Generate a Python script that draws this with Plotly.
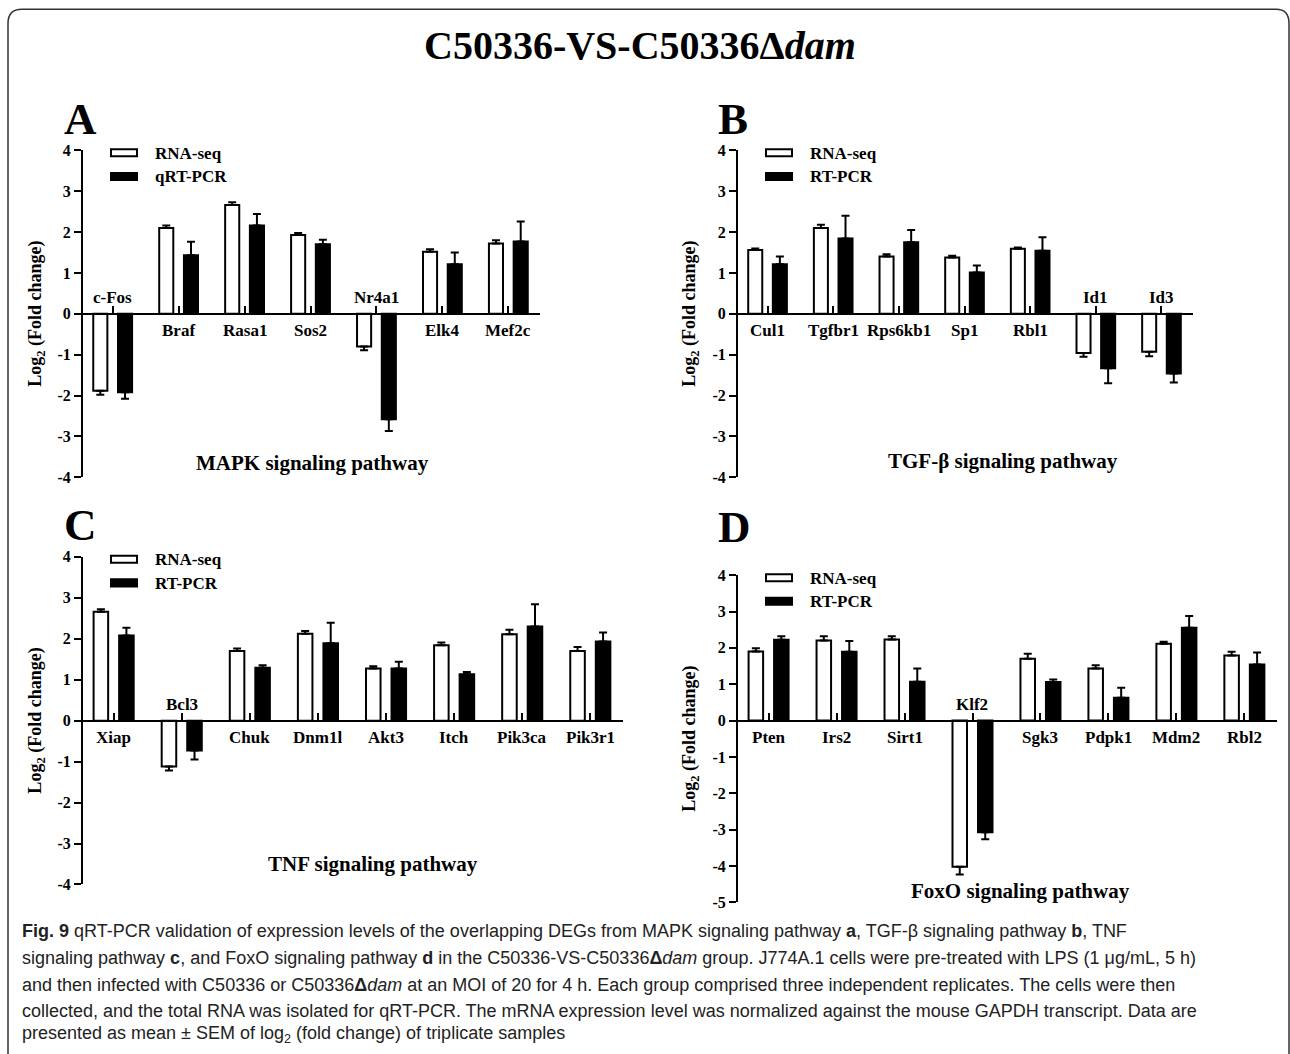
import plotly.graph_objects as go

W, H = 1290, 1054

# ---------------- data ----------------
a_genes = ["c-Fos", "Braf", "Rasa1", "Sos2", "Nr4a1", "Elk4", "Mef2c"]
a_rna = [-1.88, 2.10, 2.66, 1.93, -0.80, 1.52, 1.72]
a_rna_err = [0.10, 0.06, 0.07, 0.05, 0.09, 0.06, 0.08]
a_pcr = [-1.92, 1.43, 2.16, 1.70, -2.58, 1.21, 1.77]
a_pcr_err = [0.16, 0.33, 0.28, 0.11, 0.29, 0.29, 0.49]

b_genes = ["Cul1", "Tgfbr1", "Rps6kb1", "Sp1", "Rbl1", "Id1", "Id3"]
b_rna = [1.56, 2.10, 1.40, 1.38, 1.59, -0.96, -0.93]
b_rna_err = [0.04, 0.08, 0.06, 0.04, 0.03, 0.09, 0.11]
b_pcr = [1.21, 1.84, 1.75, 1.01, 1.54, -1.33, -1.46]
b_pcr_err = [0.19, 0.56, 0.30, 0.17, 0.33, 0.37, 0.22]

c_genes = ["Xiap", "Bcl3", "Chuk", "Dnm1l", "Akt3", "Itch", "Pik3ca", "Pik3r1"]
c_rna = [2.66, -1.12, 1.70, 2.12, 1.27, 1.84, 2.11, 1.70]
c_rna_err = [0.06, 0.10, 0.06, 0.07, 0.06, 0.07, 0.11, 0.10]
c_pcr = [2.08, -0.73, 1.29, 1.89, 1.27, 1.13, 2.30, 1.93]
c_pcr_err = [0.19, 0.22, 0.06, 0.50, 0.17, 0.06, 0.54, 0.22]

d_genes = ["Pten", "Irs2", "Sirt1", "Klf2", "Sgk3", "Pdpk1", "Mdm2", "Rbl2"]
d_rna = [1.90, 2.20, 2.23, -4.02, 1.70, 1.43, 2.11, 1.79]
d_rna_err = [0.09, 0.12, 0.09, 0.21, 0.14, 0.09, 0.06, 0.10]
d_pcr = [2.22, 1.89, 1.07, -3.07, 1.06, 0.63, 2.55, 1.54]
d_pcr_err = [0.10, 0.30, 0.36, 0.19, 0.07, 0.27, 0.33, 0.33]

pathways = ["MAPK signaling pathway", "TGF-β signaling pathway",
            "TNF signaling pathway", "FoxO signaling pathway"]
letters = ["A", "B", "C", "D"]
series_names = ["RNA-seq", "qRT-PCR", "RNA-seq", "RT-PCR", "RNA-seq", "RT-PCR", "RNA-seq", "RT-PCR"]
y_ranges = [(-4, 4), (-4, 4), (-4, 4), (-5, 4)]
y_title = "<b>Log<sub>2</sub> (Fold change)</b>"
main_title = "<b>C50336-VS-C50336Δ<i>dam</i></b>"

caption_lines = [
    "<b>Fig. 9</b> qRT-PCR validation of expression levels of the overlapping DEGs from MAPK signaling pathway <b>a</b>, TGF-β signaling pathway <b>b</b>, TNF",
    "signaling pathway <b>c</b>, and FoxO signaling pathway <b>d</b> in the C50336-VS-C50336<b>Δ</b><i>dam</i> group. J774A.1 cells were pre-treated with LPS (1 μg/mL, 5 h)",
    "and then infected with C50336 or C50336<b>Δ</b><i>dam</i> at an MOI of 20 for 4 h. Each group comprised three independent replicates. The cells were then",
    "collected, and the total RNA was isolated for qRT-PCR. The mRNA expression level was normalized against the mouse GAPDH transcript. Data are",
    "presented as mean ± SEM of log<sub>2</sub> (fold change) of triplicate samples",
]

panels_data = [
    (a_genes, a_rna, a_rna_err, a_pcr, a_pcr_err),
    (b_genes, b_rna, b_rna_err, b_pcr, b_pcr_err),
    (c_genes, c_rna, c_rna_err, c_pcr, c_pcr_err),
    (d_genes, d_rna, d_rna_err, d_pcr, d_pcr_err),
]

# ---------------- layout geometry (target pixels) ----------------
geom = [
    (83, 540, 150.7, 476.7),
    (738, 1193, 150.7, 476.7),
    (83, 623, 556.0, 882.7),
    (738, 1277, 574.3, 900.6),
]
title_pos = [(312, 462), (1003, 460), (373, 862), (1020, 889)]
letter_pos = [(62, 119), (716, 119), (62, 524), (716, 526)]

SERIF = "Liberation Serif, Times New Roman, serif"
SANS_N = "Liberation Sans Narrow, Arial Narrow, Liberation Sans, sans-serif"

# the page is captured slightly taller than the figure; compensate vertically
OFF_Y, K_Y = 8.8, 0.981


def px(x):
    return x / W


def py(y):
    return 1 - ((y - OFF_Y) / K_Y) / H


fig = go.Figure()
layout = dict(
    width=W, height=H, margin=dict(l=0, r=0, t=0, b=0),
    paper_bgcolor="white", plot_bgcolor="rgba(0,0,0,0)",
    barmode="group", bargap=0.25, bargroupgap=0.43,
    showlegend=False, font=dict(family=SERIF, color="black"),
)
annotations = []
shapes = []

for i, (genes, rna, rna_e, pcr, pcr_e) in enumerate(panels_data):
    k = "" if i == 0 else str(i + 1)
    x0, x1, yt, yb = geom[i]
    ymin, ymax = y_ranges[i]
    n = len(genes)
    dom_y = [py(yb), py(yt)]
    zero_pos = dom_y[0] + (0 - ymin) / (ymax - ymin) * (dom_y[1] - dom_y[0])

    for vals, errs, fill in ((rna, rna_e, "white"), (pcr, pcr_e, "black")):
        up = [e if v >= 0 else 0 for v, e in zip(vals, errs)]
        dn = [e if v < 0 else 0 for v, e in zip(vals, errs)]
        fig.add_trace(go.Bar(
            x=genes, y=vals, xaxis="x" + k, yaxis="y" + k,
            marker=dict(color=fill, line=dict(color="black", width=2)),
            error_y=dict(type="data", symmetric=False, array=up, arrayminus=dn,
                         color="black", thickness=2, width=4),
        ))

    tv = list(range(ymin, ymax + 1))
    layout["xaxis" + k] = dict(
        domain=[px(x0), px(x1)], type="category", range=[-0.45, n - 0.52],
        anchor="free", position=zero_pos, showline=True, linewidth=2, linecolor="black",
        ticks="inside", ticklen=7, tickwidth=1.5, tickcolor="black",
        showticklabels=False, showgrid=False, zeroline=False, fixedrange=True,
    )
    layout["yaxis" + k] = dict(
        domain=dom_y, range=[ymin, ymax], anchor="x" + k,
        showline=True, linewidth=2, linecolor="black",
        ticks="outside", ticklen=7, tickwidth=2, tickcolor="black",
        tickvals=tv, ticktext=[str(v) for v in tv],
        tickfont=dict(family=SERIF, size=16, weight="bold", color="black"),
        showgrid=False, zeroline=False, fixedrange=True,
    )

    for g, v1, v2 in zip(genes, rna, pcr):
        neg = (v1 + v2) < 0
        annotations.append(dict(
            x=g, y=0, xref="x" + k, yref="y" + k, text="<b>%s</b>" % g, showarrow=False,
            xanchor="center", yanchor="bottom" if neg else "top", yshift=5 if neg else -5,
            font=dict(family=SERIF, size=17, color="black"),
        ))

    annotations.append(dict(
        x=px(37 if i % 2 == 0 else 691), y=(dom_y[0] + dom_y[1]) / 2, xref="paper", yref="paper",
        text=y_title, textangle=-90, showarrow=False, xanchor="center", yanchor="middle",
        font=dict(family=SERIF, size=18, color="black"),
    ))
    tx, ty = title_pos[i]
    annotations.append(dict(
        x=px(tx), y=py(ty), xref="paper", yref="paper", text="<b>%s</b>" % pathways[i],
        showarrow=False, xanchor="center", yanchor="middle",
        font=dict(family=SERIF, size=21, color="black"),
    ))
    lx, ly = letter_pos[i]
    annotations.append(dict(
        x=px(lx), y=py(ly), xref="paper", yref="paper", text="<b>%s</b>" % letters[i],
        xanchor="left", yanchor="middle", showarrow=False, height=34, valign="middle",
        font=dict(family=SERIF, size=45, color="black"),
    ))
    lgx = x0 + 28
    for j, fill in enumerate(("white", "black")):
        top = yt - 1 + j * 23.5
        shapes.append(dict(
            type="rect", xref="paper", yref="paper",
            x0=px(lgx), x1=px(lgx + 26), y0=py(top + 7), y1=py(top),
            fillcolor=fill, line=dict(color="black", width=2),
        ))
        annotations.append(dict(
            x=px(lgx + 42), y=py(top + 4), xref="paper", yref="paper",
            text="<b>%s</b>" % series_names[2 * i + j], xanchor="left", yanchor="middle",
            showarrow=False, font=dict(family=SERIF, size=17, color="black"),
        ))

annotations.append(dict(
    x=px(640), y=py(46), xref="paper", yref="paper", text=main_title, showarrow=False,
    xanchor="center", yanchor="middle",
    font=dict(family=SERIF, size=40, color="black"),
))

cap_y = [929, 956, 983, 1009, 1032]
for t, yc in zip(caption_lines, cap_y):
    annotations.append(dict(
        x=px(20), y=py(yc), xref="paper", yref="paper", text=t, showarrow=False,
        xanchor="left", yanchor="middle",
        font=dict(family=SANS_N, size=18, color="#222222"),
    ))

path = "M {a},{b} L {a},{c} Q {a},{d} {e},{d} L {f},{d} Q {g},{d} {g},{h} L {g},{b}".format(
    a=px(8), b=py(1070), c=py(24), d=py(10), e=px(22), f=px(1276), g=px(1289), h=py(24))
shapes.append(dict(type="path", xref="paper", yref="paper", path=path,
                   line=dict(color="#333333", width=1.5)))

layout["annotations"] = annotations
layout["shapes"] = shapes
fig.update_layout(**layout)

fig.write_html("out.html", config={"displayModeBar": False},
               post_script="document.body.style.margin='0';document.body.style.overflow='hidden';")
